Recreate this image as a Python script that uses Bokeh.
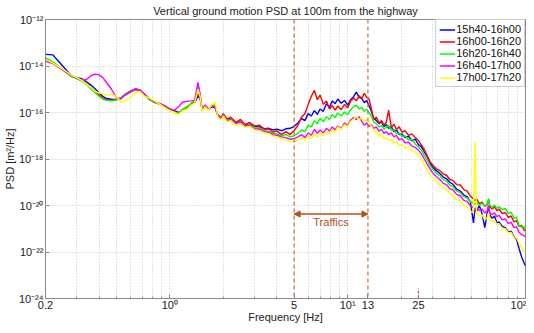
import numpy as np
from bokeh.plotting import figure
from bokeh.models import (FixedTicker, CustomJSTickFormatter, Span, Arrow, NormalHead,
                          Label, Legend, LegendItem)
from bokeh.embed import file_html
from bokeh.resources import INLINE

# ---------------- data (log10 of PSD) ----------------
F_LO = [0.20, 0.22, 0.24, 0.26, 0.28, 0.30, 0.32, 0.34, 0.36, 0.38, 0.40, 0.42, 0.44, 0.47,
        0.50, 0.53, 0.56, 0.60, 0.64, 0.68, 0.72, 0.77, 0.82, 0.88, 0.94, 1.00, 1.06, 1.12,
        1.18, 1.25, 1.32, 1.38, 1.44, 1.48, 1.52, 1.58, 1.65, 1.72, 1.80, 1.86, 1.94, 2.0,
        2.1, 2.2, 2.35, 2.5, 2.65, 2.8, 3.0, 3.2, 3.4, 3.6, 3.8, 4.0, 4.25, 4.5, 4.75, 5.0]
F_HI = [5.25, 5.5, 5.75, 6.0, 6.25, 6.5, 6.75, 7.0, 7.3, 7.6, 7.9, 8.2, 8.5, 8.8, 9.2, 9.6,
        10.0, 10.4, 10.8, 11.2, 11.6, 12.0, 12.4, 12.8, 13.2, 13.6, 14.0, 14.5, 15.0, 15.5,
        16.0, 16.5, 17.0, 17.6, 18.2, 18.8, 19.5, 20.2, 21, 22, 23, 24, 25, 26, 27, 28, 29,
        30, 31.5, 33, 34.5, 36, 37.5, 39, 41, 43, 45, 47, 49, 51, 52, 53, 55, 57, 59, 61, 62,
        63, 65, 67, 69, 71, 74, 77, 80, 83, 86, 89, 92, 95, 98, 100]

BLUE_LO = [-13.50, -13.52, -13.85, -14.15, -14.42, -14.50, -14.55, -14.68, -14.82, -14.98,
           -15.15, -15.30, -15.40, -15.43, -15.44, -15.38, -15.22, -15.08, -14.98, -15.05,
           -15.22, -15.45, -15.52, -15.65, -15.72, -15.85, -15.92, -16.00, -15.90, -15.78,
           -15.65, -15.58, -15.30, -15.40, -15.88, -15.75, -15.88, -15.75, -15.80, -16.12,
           -16.25, -16.10, -16.32, -16.25, -16.45, -16.38, -16.52, -16.50, -16.60, -16.62,
           -16.70, -16.68, -16.75, -16.72, -16.78, -16.70, -16.68, -16.60]
BLUE_HI = [-16.45, -16.25, -16.35, -16.05, -16.15, -15.92, -16.08, -15.85, -15.95, -15.62,
           -15.78, -15.50, -15.62, -15.42, -15.60, -15.48, -15.68, -15.45, -15.32, -15.12,
           -15.35, -15.40, -15.58, -15.48, -15.72, -15.95, -16.25, -16.35, -16.48, -16.40,
           -16.60, -16.52, -16.68, -16.62, -16.82, -16.75, -16.95, -16.92, -17.08, -17.02,
           -17.22, -17.15, -17.38, -17.48, -17.70, -17.90, -18.15, -18.35, -18.50, -18.62,
           -18.78, -18.85, -19.00, -19.08, -19.30, -19.38, -19.55, -19.62, -19.85, -20.75,
           -20.15, -20.25, -20.00, -20.35, -20.95, -20.30, -20.00, -20.40, -20.55, -20.45,
           -20.75, -20.70, -20.90, -20.95, -21.15, -21.10, -21.35, -21.45, -21.85, -22.20,
           -22.45, -22.60]

RED_LO = [-13.72, -13.85, -14.05, -14.25, -14.45, -14.52, -14.62, -14.75, -14.95, -15.10,
          -15.25, -15.38, -15.45, -15.47, -15.45, -15.40, -15.25, -15.12, -15.02, -15.08,
          -15.25, -15.42, -15.55, -15.62, -15.75, -15.88, -15.95, -16.03, -15.88, -15.80,
          -15.62, -15.55, -15.20, -15.35, -15.90, -15.72, -15.86, -15.70, -15.78, -16.10,
          -16.22, -16.05, -16.28, -16.20, -16.42, -16.30, -16.52, -16.42, -16.58, -16.55,
          -16.72, -16.70, -16.85, -16.80, -16.95, -16.82, -16.95, -16.78]
RED_HI = [-16.55, -16.20, -16.05, -15.65, -15.30, -15.05, -15.45, -15.25, -15.65, -15.50,
          -15.85, -15.70, -15.90, -15.72, -15.88, -15.65, -15.80, -15.50, -15.38, -15.50,
          -15.28, -15.40, -15.18, -15.35, -15.42, -15.85, -16.30, -16.20, -16.45, -16.35,
          -16.55, -16.42, -15.90, -16.65, -16.50, -16.72, -16.62, -16.85, -16.78, -16.98,
          -16.92, -17.08, -17.20, -17.40, -17.60, -17.85, -18.10, -18.25, -18.42, -18.50,
          -18.65, -18.70, -18.88, -18.92, -19.10, -19.12, -19.32, -19.38, -19.60, -19.72,
          -19.80, -19.70, -19.92, -19.85, -20.05, -19.95, -19.75, -20.05, -20.15, -20.05,
          -20.22, -20.15, -20.35, -20.30, -20.52, -20.45, -20.70, -20.65, -20.90, -20.85,
          -21.05, -21.10]

GREEN_LO = [-13.65, -13.82, -14.05, -14.28, -14.45, -14.55, -14.65, -14.80, -15.00, -15.15,
            -15.30, -15.42, -15.48, -15.50, -15.46, -15.38, -15.22, -15.10, -15.00, -15.05,
            -15.28, -15.45, -15.58, -15.65, -15.78, -15.90, -15.98, -16.05, -15.85, -15.75,
            -15.60, -15.50, -14.85, -15.25, -15.92, -15.70, -15.88, -15.68, -15.70, -16.15,
            -16.28, -16.10, -16.35, -16.28, -16.48, -16.40, -16.58, -16.52, -16.65, -16.68,
            -16.78, -16.80, -16.90, -16.92, -17.00, -16.95, -17.05, -17.00]
GREEN_HI = [-16.90, -16.75, -16.82, -16.55, -16.62, -16.35, -16.48, -16.25, -16.40, -16.18,
            -16.30, -16.08, -16.22, -16.02, -16.15, -15.98, -16.10, -15.88, -15.75, -15.68,
            -15.85, -15.78, -15.95, -15.85, -16.02, -16.15, -16.40, -16.48, -16.62, -16.55,
            -16.72, -16.62, -16.55, -16.78, -16.72, -16.92, -16.88, -17.05, -17.00, -17.18,
            -17.15, -17.35, -17.48, -17.62, -17.85, -18.05, -18.28, -18.42, -18.62, -18.72,
            -18.90, -18.95, -19.12, -19.18, -19.38, -19.45, -19.62, -19.68, -19.85, -19.88,
            -19.95, -19.85, -20.00, -19.90, -20.05, -19.92, -19.70, -20.00, -20.08, -19.98,
            -20.12, -20.05, -20.18, -20.12, -20.35, -20.28, -20.55, -20.50, -20.85, -20.95,
            -20.90, -21.05]

MAGENTA_LO = [-13.80, -13.90, -14.08, -14.25, -14.42, -14.52, -14.60, -14.58, -14.42, -14.35,
              -14.38, -14.50, -14.70, -15.00, -15.35, -15.42, -15.25, -15.10, -15.00, -15.02,
              -15.20, -15.40, -15.55, -15.62, -15.72, -15.85, -15.90, -15.75, -15.55, -15.52,
              -15.50, -15.48, -14.70, -15.20, -15.85, -15.68, -15.85, -15.72, -15.75, -16.12,
              -16.25, -16.12, -16.35, -16.30, -16.48, -16.42, -16.58, -16.55, -16.70, -16.72,
              -16.82, -16.85, -16.95, -16.98, -17.05, -17.08, -17.15, -17.12]
MAGENTA_HI = [-17.05, -16.95, -17.08, -16.88, -16.98, -16.72, -16.90, -16.75, -16.88, -16.68,
              -16.80, -16.62, -16.75, -16.58, -16.68, -16.45, -16.55, -16.32, -16.22, -16.30,
              -16.18, -16.38, -16.55, -16.45, -16.60, -16.52, -16.68, -16.62, -16.80, -16.72,
              -16.90, -16.82, -16.95, -16.88, -17.05, -16.98, -17.18, -17.12, -17.30, -17.28,
              -17.45, -17.50, -17.62, -17.78, -18.00, -18.22, -18.42, -18.58, -18.75, -18.88,
              -19.05, -19.10, -19.28, -19.32, -19.52, -19.58, -19.78, -19.82, -20.02, -20.10,
              -20.15, -20.08, -20.22, -20.15, -20.32, -20.22, -20.00, -20.30, -20.38, -20.32,
              -20.48, -20.42, -20.62, -20.58, -20.78, -20.72, -20.95, -20.92, -21.15, -21.25,
              -21.30, -21.35]

YELLOW_LO = [-13.72, -13.88, -14.05, -14.22, -14.40, -14.50, -14.62, -14.78, -14.95, -15.10,
             -15.15, -15.20, -15.25, -15.22, -15.30, -15.55, -15.50, -15.35, -15.15, -15.10,
             -15.30, -15.38, -15.50, -15.65, -15.80, -15.92, -16.00, -16.08, -15.92, -15.85,
             -15.68, -15.60, -15.00, -15.30, -15.95, -15.75, -15.90, -15.65, -15.55, -16.20,
             -16.32, -16.15, -16.40, -16.35, -16.55, -16.48, -16.65, -16.60, -16.75, -16.78,
             -16.88, -16.92, -17.02, -17.05, -17.12, -17.18, -17.25, -17.25]
YELLOW_HI = [-17.18, -17.10, -17.20, -17.00, -17.12, -16.92, -17.05, -16.88, -17.00, -16.82,
             -16.92, -16.72, -16.85, -16.62, -16.72, -16.52, -16.60, -16.38, -16.28, -16.18,
             -16.30, -16.22, -16.38, -16.30, -16.42, -16.58, -16.75, -16.85, -17.00, -16.95,
             -17.15, -17.08, -17.20, -17.15, -17.30, -17.25, -17.42, -17.38, -17.52, -17.50,
             -17.65, -17.70, -17.85, -18.00, -18.25, -18.45, -18.68, -18.80, -18.98, -19.08,
             -19.25, -19.30, -19.48, -19.55, -19.75, -19.80, -19.98, -20.05, -20.25, -20.30,
             -17.25, -20.35, -20.45, -20.40, -20.62, -20.50, -20.30, -20.58, -20.68, -20.62,
             -20.82, -20.78, -20.98, -21.00, -21.18, -21.15, -21.38, -21.40, -21.62, -21.78,
             -21.95, -22.05]

SERIES_NAMES = ["15h40-16h00", "16h00-16h20", "16h20-16h40", "16h40-17h00", "17h00-17h20"]
SERIES_COLORS = ["#0000ff", "#ff0000", "#00ff00", "#ff00ff", "#ffff00"]
SERIES_LOG = [(BLUE_LO, BLUE_HI), (RED_LO, RED_HI), (GREEN_LO, GREEN_HI),
              (MAGENTA_LO, MAGENTA_HI), (YELLOW_LO, YELLOW_HI)]

X_TICKS = [0.2, 1, 5, 10, 13, 25, 100]
X_GRID = [0.2, 0.3, 0.4, 0.5, 0.6, 0.7, 0.8, 0.9, 1, 2, 3, 4, 5, 6, 7, 8, 9,
          10, 20, 30, 40, 50, 60, 70, 80, 90, 100]
Y_TICKS = [1e-24, 1e-22, 1e-20, 1e-18, 1e-16, 1e-14, 1e-12]
TRAFFIC_BAND = [5, 13]
TRAFFIC_ARROW_Y = 4.3e-21
TRAFFIC_LABEL_Y = 1.9e-21
MARK_25 = [25, 1e-24, 2.8e-24]

FONT = "Liberation Sans"
ACC = "#c0703c"
ARROW_C = "#b5501c"

p = figure(width=526, height=325, x_axis_type="log", y_axis_type="log",
           x_range=(0.2, 100), y_range=(1e-24, 1e-12),
           output_backend="svg", toolbar_location=None,
           min_border_left=38, min_border_right=1, min_border_top=4, min_border_bottom=4)
p.background_fill_color = "white"
p.border_fill_color = "white"
p.outline_line_color = "#8a8a8a"

p.title.text = "Vertical ground motion PSD at 100m from the highway"
p.title.align = "center"
p.title.text_font = FONT
p.title.text_font_size = "11px"
p.title.text_font_style = "normal"
p.title.text_color = "#222222"
p.title.standoff = 5
p.title.offset = 0

# grids
p.xgrid.ticker = FixedTicker(ticks=X_GRID)
p.ygrid.ticker = FixedTicker(ticks=Y_TICKS)
for g in (p.xgrid, p.ygrid):
    g.grid_line_color = "#c8c8c8"
    g.grid_line_dash = "1 2"
    g.grid_line_width = 1

# axes
p.xaxis.ticker = FixedTicker(ticks=X_TICKS, minor_ticks=X_GRID)
p.yaxis.ticker = FixedTicker(ticks=Y_TICKS, minor_ticks=[])
p.xaxis.formatter = CustomJSTickFormatter(code="""
const m = {"0.2":"0.2","1":"10\u2070","5":"5","10":"10\u00b9","13":"13","25":"25","100":"10\u00b2"};
const k = String(Math.round(tick*10)/10);
return (k in m) ? m[k] : "";
""")
p.yaxis.formatter = CustomJSTickFormatter(code="""
const e = Math.round(Math.log10(tick));
const sup = {"-":"\u207b","0":"\u2070","1":"\u00b9","2":"\u00b2","3":"\u00b3","4":"\u2074","5":"\u2075","6":"\u2076","7":"\u2077","8":"\u2078","9":"\u2079"};
return "10" + String(e).split("").map(c => sup[c]).join("");
""")
p.xaxis.axis_label = "Frequency [Hz]"
p.yaxis.axis_label = "PSD [m\u00b2/Hz]"
for ax in (p.xaxis, p.yaxis):
    ax.axis_label_text_font = FONT
    ax.axis_label_text_font_size = "11px"
    ax.axis_label_text_font_style = "normal"
    ax.axis_label_text_color = "#222222"
    ax.major_label_text_font = FONT
    ax.major_label_text_font_size = "11px"
    ax.major_label_text_color = "#222222"
    ax.axis_line_color = "#8a8a8a"
    ax.major_tick_line_color = "#8a8a8a"
    ax.minor_tick_line_color = "#8a8a8a"
    ax.major_tick_in = 4
    ax.major_tick_out = 0
    ax.minor_tick_in = 2
    ax.minor_tick_out = 0
p.xaxis.major_label_standoff = 0
p.xaxis.axis_label_standoff = -3
p.yaxis.major_label_standoff = 2
p.yaxis.axis_label_standoff = 0

# traffic annotations
for loc in TRAFFIC_BAND:
    p.add_layout(Span(location=loc, dimension="height", line_color=ACC,
                      line_dash="4 3", line_width=1.3, line_alpha=0.9))
p.segment(x0=[MARK_25[0]], y0=[MARK_25[1]], x1=[MARK_25[0]], y1=[MARK_25[2]],
          line_color=ACC, line_dash="3 2", line_width=1.3)

renderers = []
for name, color, (lo, hi) in zip(SERIES_NAMES, SERIES_COLORS, SERIES_LOG):
    f = np.array(F_LO + F_HI)
    v = np.power(10.0, np.array(lo + hi))
    r = p.line(f, v, line_color=color, line_width=1.4)
    renderers.append((name, r))

p.add_layout(Arrow(x_start=TRAFFIC_BAND[0], x_end=TRAFFIC_BAND[1],
                   y_start=TRAFFIC_ARROW_Y, y_end=TRAFFIC_ARROW_Y,
                   line_color=ARROW_C, line_width=1.3,
                   start=NormalHead(size=6, fill_color=ARROW_C, line_color=ARROW_C),
                   end=NormalHead(size=6, fill_color=ARROW_C, line_color=ARROW_C)))
p.add_layout(Label(x=np.sqrt(TRAFFIC_BAND[0] * TRAFFIC_BAND[1]), y=TRAFFIC_LABEL_Y,
                   text="Traffics", text_align="center", text_baseline="middle",
                   text_font=FONT, text_font_size="11px", text_color=ARROW_C))

legend = Legend(items=[LegendItem(label=n, renderers=[r]) for n, r in renderers],
                location="top_right")
legend.label_text_font = FONT
legend.label_text_font_size = "11px"
legend.label_text_color = "#111111"
legend.label_height = 11
legend.glyph_height = 11
legend.glyph_width = 16
legend.label_standoff = 1
legend.spacing = 0
legend.padding = 3
legend.margin = 0
legend.border_line_color = "#9a9a9a"
legend.background_fill_alpha = 1.0
p.add_layout(legend)

open("out.html", "w").write(file_html(p, INLINE))
